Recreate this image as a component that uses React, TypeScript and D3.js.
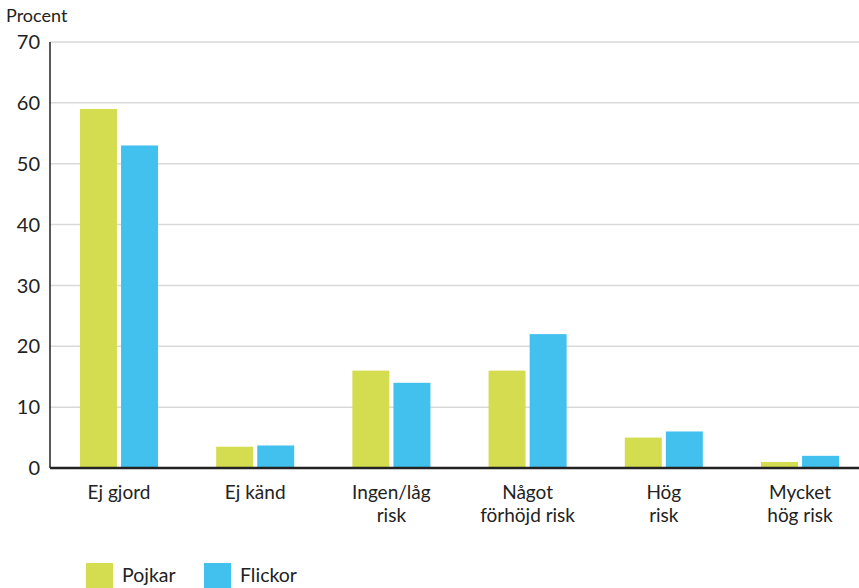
import { scaleBand, scaleLinear } from 'd3'

const categories = [['Ej gjord'], ['Ej känd'], ['Ingen/låg', 'risk'], ['Något', 'förhöjd risk'], ['Hög', 'risk'], ['Mycket', 'hög risk']]
const pojkar = [59, 3.5, 16, 16, 5, 1]
const flickor = [53, 3.7, 14, 22, 6, 2]
const seriesNames = ['Pojkar', 'Flickor']
const seriesColors = ['#d4dc4f', '#42c0ee']
const yTicks = [0, 10, 20, 30, 40, 50, 60, 70]

const width = 859
const height = 588
const margin = { top: 42, right: 0, bottom: 120, left: 50 }
const font = 'Lato, "Open Sans", sans-serif'

function App() {
  const innerWidth = width - margin.left - margin.right
  const innerHeight = height - margin.top - margin.bottom

  // the band range runs a bit past the right edge, as in the original
  const x = scaleBand<number>()
    .domain(categories.map((_, i) => i))
    .range([0, 819])
    .paddingInner(0.427)
    .paddingOuter(0.22)
  const inner = scaleBand<number>().domain([0, 1]).range([0, x.bandwidth()]).paddingInner(0.1)
  const y = scaleLinear().domain([0, 70]).range([innerHeight, 0])

  const series = [pojkar, flickor]

  return (
    <svg width={width} height={height} style={{ position: 'absolute', left: 0, top: 0 }} fontFamily={font}>
      <text x={6} y={22} fontSize={18} fill="#222">Procent</text>
      <g transform={`translate(${margin.left}, ${margin.top})`}>
        {yTicks.map((tick) => (
          <g key={`grid-${tick}`}>
            {tick > 0 && (
              <line x1={0} x2={innerWidth} y1={y(tick)} y2={y(tick)} stroke="#d9d9d9" strokeWidth={1.5} />
            )}
            <text x={-10} y={y(tick)} dy="0.36em" textAnchor="end" fontSize={20} fill="#222">
              {tick}
            </text>
          </g>
        ))}

        {series.map((values, s) =>
          values.map((v, i) => (
            <rect
              key={`${s}-${i}`}
              x={(x(i) ?? 0) + (inner(s) ?? 0)}
              y={y(v)}
              width={inner.bandwidth()}
              height={innerHeight - y(v)}
              fill={seriesColors[s]}
            />
          )),
        )}

        <line x1={0} x2={0} y1={0} y2={innerHeight} stroke="#222" strokeWidth={1.5} />
        <line x1={0} x2={innerWidth} y1={innerHeight} y2={innerHeight} stroke="#222" strokeWidth={2.5} />

        {categories.map((lines, i) => (
          <text
            key={`cat-${i}`}
            x={(x(i) ?? 0) + x.bandwidth() / 2}
            y={innerHeight + 31}
            textAnchor="middle"
            fontSize={19}
            fill="#222"
          >
            {lines.map((l, j) => (
              <tspan key={j} x={(x(i) ?? 0) + x.bandwidth() / 2} dy={j === 0 ? 0 : 23}>
                {l}
              </tspan>
            ))}
          </text>
        ))}
      </g>

      {seriesNames.map((name, s) => (
        <g key={name} transform={`translate(${86 + s * 118}, 563)`}>
          <rect x={0} y={0} width={27} height={25} fill={seriesColors[s]} />
          <text x={36} y={19} fontSize={19.5} fill="#222">{name}</text>
        </g>
      ))}
    </svg>
  )
}

export default App
